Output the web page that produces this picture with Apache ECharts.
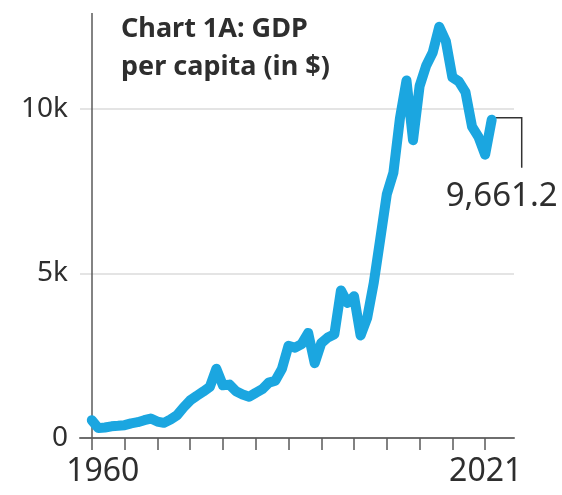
<!DOCTYPE html>
<html>
  <head>
    <meta charset="UTF-8" />
    <title></title>
    <style type="text/css">
      html,
      body {
        width: 100%;
        height: 100%;
        margin: 0;
        padding: 0;
        overflow: hidden;
        background: #fff;
      }
      #main {
        width: 562px;
        height: 495px;
      }
    </style>
  </head>
  <body>
    <div id="main"></div>
    <script src="https://cdn.jsdelivr.net/npm/echarts@6/dist/echarts.min.js"></script>
    <script type="text/javascript">
      const titleText = "Chart 1A: GDP\nper capita (in $)";

      const years = [
        1960, 1961, 1962, 1963, 1964, 1965, 1966, 1967, 1968, 1969,
        1970, 1971, 1972, 1973, 1974, 1975, 1976, 1977, 1978, 1979,
        1980, 1981, 1982, 1983, 1984, 1985, 1986, 1987, 1988, 1989,
        1990, 1991, 1992, 1993, 1994, 1995, 1996, 1997, 1998, 1999,
        2000, 2001, 2002, 2003, 2004, 2005, 2006, 2007, 2008, 2009,
        2010, 2011, 2012, 2013, 2014, 2015, 2016, 2017, 2018, 2019,
        2020, 2021,
      ];

      // GDP per capita
      const gdp = [
        540, 300, 320, 355, 370, 390, 445, 480, 540, 590,
        500, 460, 560, 690, 930, 1140, 1280, 1410, 1550, 2100,
        1600, 1620, 1420, 1320, 1250, 1370, 1480, 1680, 1740, 2100,
        2800, 2740, 2850, 3190, 2270, 2880, 3050, 3150, 4480, 4100,
        4300, 3110, 3640, 4700, 6040, 7400, 8050, 9700, 10850, 9040,
        10680, 11300, 11700, 12480, 12050, 10950, 10820, 10500, 9450, 9130,
        8600, 9661.2,
      ];

      const tickYears = [1960, 1965, 1970, 1975, 1980, 1985, 1990, 1995, 2000, 2005, 2010, 2015, 2020];
      const labelYears = [1960, 2021];
      const yTicks = [0, 5000, 10000];
      const lastLabel = "9,661.2";

      const font = "'Noto Sans', 'Open Sans', sans-serif";
      const chart = echarts.init(document.getElementById("main"));

      const option = {
        backgroundColor: "#fff",
        animation: false,
        title: {
          text: titleText,
          left: 116,
          top: 5,
          textStyle: {
            fontFamily: font,
            fontSize: 27,
            fontWeight: "bold",
            lineHeight: 38,
            color: "#2e2e2e",
          },
        },
        grid: {
          left: 80,
          right: 48,
          top: 13,
          bottom: 57,
        },
        xAxis: {
          type: "value",
          min: 1958.2,
          max: 2024.4,
          splitLine: { show: false },
          axisLine: {
            show: true,
            onZero: false,
            lineStyle: { color: "#6e6e6e", width: 2 },
          },
          axisTick: {
            show: true,
            customValues: tickYears,
            length: 12,
            lineStyle: { color: "#5a5a5a", width: 1.5 },
          },
          axisLabel: {
            customValues: labelYears,
            margin: 18,
            fontFamily: font,
            fontSize: 32,
            color: "#2e2e2e",
            formatter: (v) => (v === labelYears[0] ? "{a|" + v + "}" : "{b|" + v + "}"),
            rich: {
              a: { fontFamily: font, fontSize: 32, color: "#2e2e2e", padding: [0, 0, 0, 22] },
              b: { fontFamily: font, fontSize: 32, color: "#2e2e2e", padding: [0, 12, 0, 0] },
            },
          },
        },
        yAxis: {
          type: "value",
          min: 0,
          max: 12900,
          interval: 5000,
          axisLine: { show: false },
          axisTick: { show: false },
          splitLine: {
            show: true,
            lineStyle: { color: ["#e4e4e4", "#e4e4e4", "#e4e4e4", "rgba(0,0,0,0)"], width: 2 },
          },
          axisLabel: {
            customValues: yTicks,
            margin: 12,
            fontFamily: font,
            fontSize: 28,
            color: "#2e2e2e",
            formatter: (v) => (v === 0 ? "0" : v / 1000 + "k"),
          },
        },
        series: [
          {
            type: "line",
            data: years.map((y, i) => [y, gdp[i]]),
            symbol: "none",
            smooth: false,
            z: 3,
            lineStyle: {
              color: "#1ba6e0",
              width: 10,
              cap: "round",
              join: "round",
            },
            markLine: {
              silent: true,
              symbol: "none",
              label: { show: false },
              lineStyle: { color: "#5a5a5a", width: 1.5, type: "solid" },
              data: [{ xAxis: years[0] }],
              z: 1,
            },
          },
        ],
      };
      chart.setOption(option);

      // connector + value label at the last point
      const p = chart.convertToPixel({ gridIndex: 0 }, [years[years.length - 1], gdp[gdp.length - 1]]);
      chart.setOption({
        graphic: [
          {
            type: "polyline",
            shape: {
              points: [
                [p[0] + 3, p[1] - 2],
                [p[0] + 30, p[1] - 2],
                [p[0] + 30, p[1] + 48],
              ],
            },
            style: { stroke: "#333", lineWidth: 1.5, fill: null },
          },
          {
            type: "text",
            x: p[0] + 66,
            y: p[1] + 77,
            style: {
              text: lastLabel,
              fontFamily: font,
              fontSize: 33,
              fill: "#2e2e2e",
              align: "right",
              verticalAlign: "middle",
            },
          },
        ],
      });
    </script>
  </body>
</html>
